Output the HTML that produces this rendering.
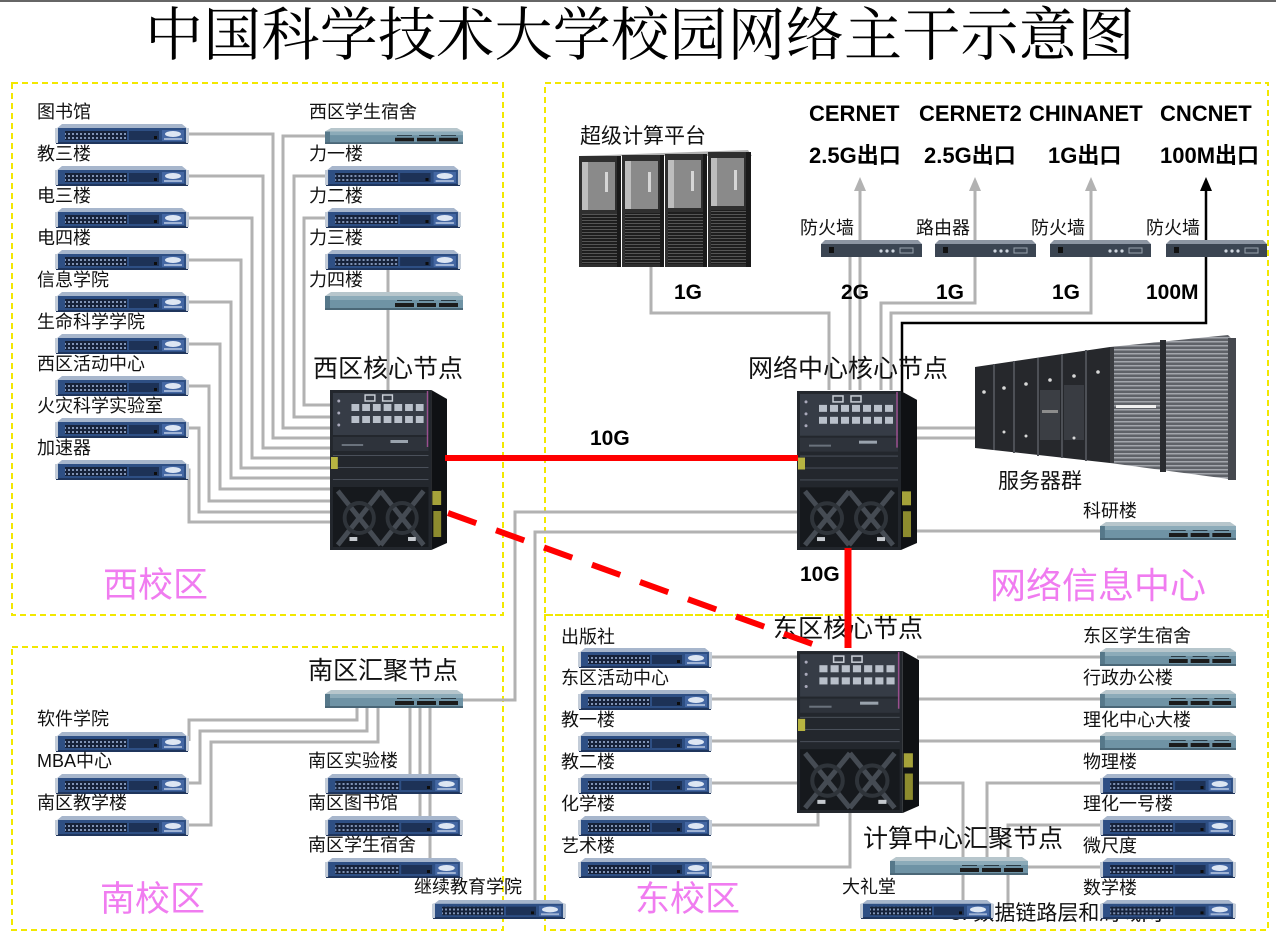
<!DOCTYPE html>
<html><head><meta charset="utf-8">
<style>
html,body{margin:0;padding:0;background:#fff;}
svg{display:block}
.t{font-family:'Liberation Sans','Noto Sans CJK SC',sans-serif;fill:#111;font-size:18px}
.n{font-size:25px}
.m{font-size:21px}
.b{font-weight:bold;font-size:22px;fill:#000}
.b2{font-weight:bold;font-size:21px;fill:#000}
.p{font-size:35px;fill:#f07cf0}
.ttl{font-family:'Noto Serif CJK SC','Noto Serif CJK JP','Noto Serif CJK TC','Liberation Serif',serif;font-size:58px;fill:#000;font-weight:400}
</style></head><body>
<svg width="1276" height="940" viewBox="0 0 1276 940" xmlns="http://www.w3.org/2000/svg">
<defs>
 <pattern id="ports" width="4" height="4" patternUnits="userSpaceOnUse"><rect width="4" height="4" fill="#16223a"/><rect x="1" y="1" width="2" height="2" fill="#8093b5"/></pattern>
 <pattern id="mesh" width="4" height="3" patternUnits="userSpaceOnUse"><rect width="4" height="3" fill="#1e1e1e"/><rect y="1" width="4" height="1" fill="#555"/></pattern>
 <pattern id="rack" width="6" height="4" patternUnits="userSpaceOnUse"><rect width="6" height="4" fill="#5f6268"/><rect y="1" width="6" height="1.5" fill="#a3a6ac"/></pattern>
 <symbol id="bsw" viewBox="0 0 134 20" preserveAspectRatio="none">
  <polygon points="7,0 127,0 133,5 1,5" fill="#a7b6cc"/>
  <rect x="1" y="4" width="132" height="15" fill="#2e4f84"/>
  <rect x="1" y="18" width="132" height="2" fill="#1f355c"/>
  <rect x="0" y="4" width="3" height="15" fill="#c3ccd8"/>
  <rect x="131" y="4" width="3" height="15" fill="#c3ccd8"/>
  <rect x="10" y="7" width="62" height="9" fill="url(#ports)"/>
  <rect x="74" y="7" width="30" height="9" fill="#1d3257"/>
  <rect x="99" y="12" width="3" height="3" fill="#0d0d0d"/>
  <rect x="107" y="6" width="22" height="11" fill="#4467a3"/>
  <ellipse cx="118" cy="10" rx="8" ry="3" fill="#dde6f3"/>
  <rect x="109" y="14" width="18" height="2" fill="#9fb3d4"/>
 </symbol>
 <symbol id="lsw" viewBox="0 0 138 18" preserveAspectRatio="none">
  <polygon points="6,0 132,0 138,4 0,4" fill="#b7c6cc"/>
  <rect x="0" y="4" width="138" height="14" fill="#6f93a5"/>
  <rect x="0" y="4" width="138" height="4" fill="#8cabb9"/>
  <rect x="0" y="4" width="5" height="14" fill="#56788a"/>
  <rect x="0" y="16" width="138" height="2" fill="#4b6777"/>
  <rect x="70" y="11" width="19" height="4" fill="#1b1b1b"/>
  <rect x="92" y="11" width="19" height="4" fill="#1b1b1b"/>
  <rect x="114" y="11" width="19" height="4" fill="#1b1b1b"/>
  <rect x="72" y="8" width="15" height="1" fill="#2a3a44"/>
  <rect x="94" y="8" width="15" height="1" fill="#2a3a44"/>
  <rect x="116" y="8" width="15" height="1" fill="#2a3a44"/>
 </symbol>
 <symbol id="fw" viewBox="0 0 101 17" preserveAspectRatio="none">
  <polygon points="4,0 97,0 101,4 0,4" fill="#8d96a3"/>
  <rect x="0" y="4" width="101" height="13" fill="#3b4552"/>
  <rect x="8" y="7" width="5" height="6" fill="#111"/>
  <circle cx="60" cy="11" r="1.6" fill="#cfd6df"/>
  <circle cx="66" cy="11" r="1.6" fill="#cfd6df"/>
  <circle cx="72" cy="11" r="1.6" fill="#cfd6df"/>
  <rect x="79" y="8" width="13" height="5" fill="none" stroke="#9aa4ae" stroke-width="1"/>
 </symbol>
 <symbol id="core" viewBox="0 0 120 163" preserveAspectRatio="none">
  <rect x="0" y="3" width="104" height="160" fill="#23272d"/>
  <polygon points="104,3 120,12 120,156 104,163" fill="#0f1114"/>
  <rect x="3" y="6" width="98" height="42" fill="#363c46"/>
  <rect x="36" y="8" width="10" height="6" fill="none" stroke="#c9ced6" stroke-width="1.5"/>
  <rect x="54" y="8" width="10" height="6" fill="none" stroke="#c9ced6" stroke-width="1.5"/>
  <g fill="#b9c0ca">
   <rect x="22" y="17" width="8" height="7"/><rect x="33" y="17" width="8" height="7"/><rect x="44" y="17" width="8" height="7"/><rect x="55" y="17" width="8" height="7"/><rect x="66" y="17" width="8" height="7"/><rect x="77" y="17" width="8" height="7"/><rect x="88" y="17" width="8" height="7"/>
   <rect x="22" y="29" width="8" height="7"/><rect x="33" y="29" width="8" height="7"/><rect x="44" y="29" width="8" height="7"/><rect x="55" y="29" width="8" height="7"/><rect x="66" y="29" width="8" height="7"/><rect x="77" y="29" width="8" height="7"/><rect x="88" y="29" width="8" height="7"/>
  </g>
  <circle cx="9" cy="14" r="1.5" fill="#aab"/><circle cx="9" cy="26" r="1.5" fill="#aab"/><circle cx="9" cy="38" r="1.5" fill="#aab"/>
  <rect x="3" y="50" width="98" height="14" fill="#2e333b"/>
  <rect x="62" y="53" width="18" height="3" fill="#9aa3ad"/>
  <rect x="12" y="57" width="22" height="2" fill="#6a727c"/>
  <rect x="3" y="68" width="98" height="1" fill="#4a505a"/>
  <rect x="3" y="80" width="98" height="1" fill="#4a505a"/>
  <rect x="3" y="92" width="98" height="1" fill="#4a505a"/>
  <rect x="3" y="100" width="98" height="60" fill="#16191d"/>
  <path d="M8,104 L52,158 M52,104 L8,158 M52,104 L96,158 M96,104 L52,158" stroke="#454b53" stroke-width="5"/>
  <circle cx="30" cy="131" r="15" fill="none" stroke="#2f343a" stroke-width="4"/>
  <circle cx="74" cy="131" r="15" fill="none" stroke="#2f343a" stroke-width="4"/>
  <rect x="20" y="150" width="8" height="4" fill="#c5c9ce"/>
  <rect x="80" y="150" width="8" height="4" fill="#c5c9ce"/>
  <rect x="105" y="104" width="9" height="14" fill="#a5a23a"/>
  <rect x="106" y="124" width="8" height="26" fill="#8d8b2e"/>
  <rect x="1" y="70" width="7" height="12" fill="#b7b441"/>
  <line x1="100" y1="4" x2="100" y2="60" stroke="#9a4f8f" stroke-width="1.5"/>
 </symbol>
</defs>

<rect x="0" y="0" width="1276" height="940" fill="#fff"/>
<rect x="0" y="0" width="1276" height="2" fill="#666"/>

<!-- title -->
<text class="ttl" x="145" y="55" textLength="990" lengthAdjust="spacing">中国科学技术大学校园网络主干示意图</text>

<!-- dashed region boxes -->
<g fill="none" stroke="#f2e800" stroke-width="2" stroke-dasharray="6 4">
 <rect x="12" y="83" width="491" height="532"/>
 <rect x="545" y="83" width="723" height="532"/>
 <rect x="545" y="615" width="723" height="315"/>
 <rect x="12" y="647" width="491" height="283"/>
</g>

<!-- gray connection lines -->
<g fill="none" stroke="#b2b2b2" stroke-width="3">
 <path d="M188,134 H273 V438 H330"/>
 <path d="M188,176 H263 V448 H330"/>
 <path d="M188,218 H252 V458 H330"/>
 <path d="M188,260 H241 V468 H330"/>
 <path d="M188,302 H231 V478 H330"/>
 <path d="M188,344 H220 V489 H330"/>
 <path d="M188,386 H209 V501 H330"/>
 <path d="M188,428 H199 V512 H330"/>
 <path d="M186,470 H189 V522 H330"/>
 <path d="M325,136 H283 V428 H330"/>
 <path d="M325,176 H294 V417 H330"/>
 <path d="M325,218 H304 V405 H330"/>
 <path d="M388,265 V390"/>

 <path d="M651,266 V313 H829 V390"/>
 <path d="M850,256 V390"/>
 <path d="M860,188 V390"/>
 <path d="M975,188 V303 H881 V390"/>
 <path d="M1091,188 V313 H891 V390"/>
 <path d="M917,428 H975"/>
 <path d="M917,438 H975"/>
 <path d="M917,531 H1100"/>

 <path d="M462,700 H515 V512 H798"/>
 <path d="M535,902 V532 H798"/>

 <path d="M357,708 V720 H189 V741"/>
 <path d="M367,708 V731 H200 V783 H188"/>
 <path d="M378,708 V742 H211 V825 H188"/>
 <path d="M410,708 V783"/>
 <path d="M420,708 V825"/>
 <path d="M430,708 V867"/>

 <path d="M712,657 H798"/>
 <path d="M712,699 H798"/>
 <path d="M712,741 H798"/>
 <path d="M712,783 H798"/>
 <path d="M712,825 H818 V795"/>
 <path d="M712,867 H850 V812"/>
 <path d="M917,657 H1100"/>
 <path d="M917,699 H1100"/>
 <path d="M917,741 H1100"/>
 <path d="M917,783 H963 V902"/>
 <path d="M1100,783 H987 V858"/>
 <path d="M1100,825 H1008 V908"/>
 <path d="M1028,867 H1100"/>
</g>
<!-- arrowheads -->
<g fill="#b2b2b2">
 <polygon points="854,191 866,191 860,177"/>
 <polygon points="969,191 981,191 975,177"/>
 <polygon points="1085,191 1097,191 1091,177"/>
</g>
<path d="M1206,188 V323 H902 V392" fill="none" stroke="#000" stroke-width="2.5"/>
<polygon points="1200,191 1212,191 1206,177" fill="#000"/>

<!-- supercomputer -->
<g>
 <polygon points="579,156 748,150 752,156" fill="#b0b0b0"/>
 <g>
  <rect x="579" y="156" width="42" height="111" fill="#2f2f2f"/>
  <rect x="582" y="162" width="33" height="48" fill="#8a8a8a"/>
  <rect x="582" y="162" width="6" height="48" fill="#bdbdbd"/>
  <rect x="605" y="172" width="3" height="20" fill="#d6d6d6"/>
  <rect x="582" y="214" width="35" height="50" fill="url(#mesh)"/>
  <rect x="617" y="156" width="4" height="111" fill="#1a1a1a"/>
 </g>
 <g>
  <rect x="622" y="155" width="42" height="112" fill="#2f2f2f"/>
  <rect x="625" y="161" width="33" height="48" fill="#8a8a8a"/>
  <rect x="625" y="161" width="6" height="48" fill="#bdbdbd"/>
  <rect x="648" y="172" width="3" height="20" fill="#d6d6d6"/>
  <rect x="625" y="213" width="35" height="51" fill="url(#mesh)"/>
  <rect x="660" y="155" width="4" height="112" fill="#1a1a1a"/>
 </g>
 <g>
  <rect x="665" y="154" width="42" height="113" fill="#2f2f2f"/>
  <rect x="668" y="160" width="33" height="48" fill="#8a8a8a"/>
  <rect x="668" y="160" width="6" height="48" fill="#bdbdbd"/>
  <rect x="691" y="171" width="3" height="20" fill="#d6d6d6"/>
  <rect x="668" y="212" width="35" height="52" fill="url(#mesh)"/>
  <rect x="703" y="154" width="4" height="113" fill="#1a1a1a"/>
 </g>
 <g>
  <rect x="708" y="152" width="42" height="115" fill="#2f2f2f"/>
  <rect x="711" y="158" width="33" height="48" fill="#8a8a8a"/>
  <rect x="711" y="158" width="6" height="48" fill="#bdbdbd"/>
  <rect x="734" y="170" width="3" height="20" fill="#d6d6d6"/>
  <rect x="711" y="210" width="35" height="54" fill="url(#mesh)"/>
  <rect x="746" y="152" width="5" height="115" fill="#1a1a1a"/>
 </g>
</g>

<!-- server group -->
<g>
 <polygon points="975,367 1110,347 1110,463 975,448" fill="#26282c"/>
 <polygon points="1110,347 1228,335 1236,343 1236,480 1110,463" fill="url(#rack)"/>
 <g stroke="#4d5056" stroke-width="2">
  <line x1="994" y1="364" x2="994" y2="450"/>
  <line x1="1014" y1="361" x2="1014" y2="453"/>
  <line x1="1038" y1="358" x2="1038" y2="456"/>
  <line x1="1062" y1="354" x2="1062" y2="458"/>
  <line x1="1086" y1="350" x2="1086" y2="461"/>
 </g>
 <rect x="1040" y="390" width="20" height="50" fill="#3b3e44"/>
 <rect x="1064" y="385" width="20" height="55" fill="#393c42"/>
 <rect x="1042" y="410" width="16" height="3" fill="#8c8c8c"/>
 <g fill="#d8d8d8">
  <circle cx="984" cy="392" r="1.8"/><circle cx="1004" cy="388" r="1.8"/><circle cx="1026" cy="384" r="1.8"/><circle cx="1050" cy="380" r="1.8"/><circle cx="1074" cy="376" r="1.8"/><circle cx="1098" cy="372" r="1.8"/>
  <circle cx="1004" cy="432" r="1.5"/><circle cx="1026" cy="436" r="1.5"/><circle cx="1074" cy="438" r="1.5"/>
 </g>
 <rect x="1160" y="340" width="6" height="132" fill="#2a2c30"/>
 <rect x="1110" y="347" width="4" height="116" fill="#3a3c40"/>
 <rect x="1116" y="405" width="40" height="3" fill="#f0f0f0"/>
 <rect x="1228" y="338" width="8" height="142" fill="#45484e"/>
</g>

<!-- switches: west left -->
<use href="#bsw" x="55" y="124" width="134" height="20"/>
<use href="#bsw" x="55" y="166" width="134" height="20"/>
<use href="#bsw" x="55" y="208" width="134" height="20"/>
<use href="#bsw" x="55" y="250" width="134" height="20"/>
<use href="#bsw" x="55" y="292" width="134" height="20"/>
<use href="#bsw" x="55" y="334" width="134" height="20"/>
<use href="#bsw" x="55" y="376" width="134" height="20"/>
<use href="#bsw" x="55" y="418" width="134" height="20"/>
<use href="#bsw" x="55" y="460" width="134" height="20"/>
<!-- west right -->
<use href="#lsw" x="325" y="128" width="138" height="16"/>
<use href="#bsw" x="325" y="166" width="136" height="20"/>
<use href="#bsw" x="325" y="208" width="136" height="20"/>
<use href="#bsw" x="325" y="250" width="136" height="20"/>
<use href="#lsw" x="325" y="292" width="138" height="18"/>

<!-- firewalls / router -->
<use href="#fw" x="821" y="240" width="101" height="17"/>
<use href="#fw" x="935" y="240" width="101" height="17"/>
<use href="#fw" x="1050" y="240" width="101" height="17"/>
<use href="#fw" x="1166" y="240" width="101" height="17"/>

<!-- 科研楼 -->
<use href="#lsw" x="1100" y="522" width="136" height="18"/>

<!-- south -->
<use href="#lsw" x="325" y="690" width="138" height="18"/>
<use href="#bsw" x="55" y="732" width="134" height="20"/>
<use href="#bsw" x="55" y="774" width="134" height="20"/>
<use href="#bsw" x="55" y="816" width="134" height="20"/>
<use href="#bsw" x="325" y="774" width="138" height="20"/>
<use href="#bsw" x="325" y="816" width="138" height="20"/>
<use href="#bsw" x="325" y="858" width="138" height="20"/>
<use href="#bsw" x="432" y="900" width="134" height="19"/>

<!-- east left -->
<use href="#bsw" x="578" y="648" width="134" height="20"/>
<use href="#bsw" x="578" y="690" width="134" height="20"/>
<use href="#bsw" x="578" y="732" width="134" height="20"/>
<use href="#bsw" x="578" y="774" width="134" height="20"/>
<use href="#bsw" x="578" y="816" width="134" height="20"/>
<use href="#bsw" x="578" y="858" width="134" height="20"/>

<!-- overlay caption partially hidden -->
<text class="t m" x="950" y="920" fill="#222">3. 数据链路层和局域网</text>

<!-- east right -->
<use href="#lsw" x="1100" y="648" width="136" height="18"/>
<use href="#lsw" x="1100" y="690" width="136" height="18"/>
<use href="#lsw" x="1100" y="732" width="136" height="18"/>
<use href="#bsw" x="1100" y="774" width="136" height="20"/>
<use href="#bsw" x="1100" y="816" width="136" height="20"/>
<use href="#bsw" x="1100" y="858" width="136" height="20"/>
<use href="#bsw" x="1100" y="900" width="136" height="19"/>
<use href="#lsw" x="890" y="857" width="138" height="18"/>
<use href="#bsw" x="860" y="900" width="134" height="19"/>

<!-- cores -->
<use href="#core" x="330" y="387" width="117" height="163"/>
<use href="#core" x="797" y="388" width="120" height="162"/>
<use href="#core" x="797" y="648" width="122" height="165"/>

<!-- labels -->
<g class="t">
 <text x="37" y="118">图书馆</text>
 <text x="37" y="160">教三楼</text>
 <text x="37" y="202">电三楼</text>
 <text x="37" y="244">电四楼</text>
 <text x="37" y="286">信息学院</text>
 <text x="37" y="328">生命科学学院</text>
 <text x="37" y="370">西区活动中心</text>
 <text x="37" y="412">火灾科学实验室</text>
 <text x="37" y="454">加速器</text>
 <text x="309" y="118">西区学生宿舍</text>
 <text x="309" y="160">力一楼</text>
 <text x="309" y="202">力二楼</text>
 <text x="309" y="244">力三楼</text>
 <text x="309" y="286">力四楼</text>

 <text x="800" y="234">防火墙</text>
 <text x="916" y="234">路由器</text>
 <text x="1031" y="234">防火墙</text>
 <text x="1146" y="234">防火墙</text>
 <text x="1083" y="517">科研楼</text>

 <text x="37" y="725">软件学院</text>
 <text x="37" y="767">MBA中心</text>
 <text x="37" y="809">南区教学楼</text>
 <text x="308" y="767">南区实验楼</text>
 <text x="308" y="809">南区图书馆</text>
 <text x="308" y="851">南区学生宿舍</text>
 <text x="414" y="893">继续教育学院</text>

 <text x="561" y="643">出版社</text>
 <text x="561" y="684">东区活动中心</text>
 <text x="561" y="726">教一楼</text>
 <text x="561" y="768">教二楼</text>
 <text x="561" y="810">化学楼</text>
 <text x="561" y="852">艺术楼</text>
 <text x="1083" y="642">东区学生宿舍</text>
 <text x="1083" y="684">行政办公楼</text>
 <text x="1083" y="726">理化中心大楼</text>
 <text x="1083" y="768">物理楼</text>
 <text x="1083" y="810">理化一号楼</text>
 <text x="1083" y="852">微尺度</text>
 <text x="1083" y="894">数学楼</text>
 <text x="842" y="893">大礼堂</text>

 <text class="m" x="580" y="143">超级计算平台</text>
 <text class="m" x="998" y="488">服务器群</text>

 <text class="n" x="313" y="377">西区核心节点</text>
 <text class="n" x="748" y="377">网络中心核心节点</text>
 <text class="n" x="773" y="637">东区核心节点</text>
 <text class="n" x="308" y="679">南区汇聚节点</text>
 <text class="n" x="863" y="847">计算中心汇聚节点</text>

 <text class="b" x="809" y="121">CERNET</text>
 <text class="b" x="919" y="121">CERNET2</text>
 <text class="b" x="1029" y="121">CHINANET</text>
 <text class="b" x="1160" y="121">CNCNET</text>
 <text class="b" x="809" y="163">2.5G出口</text>
 <text class="b" x="924" y="163">2.5G出口</text>
 <text class="b" x="1048" y="163">1G出口</text>
 <text class="b" x="1160" y="163">100M出口</text>

 <text class="b2" x="674" y="299">1G</text>
 <text class="b2" x="841" y="299">2G</text>
 <text class="b2" x="936" y="299">1G</text>
 <text class="b2" x="1052" y="299">1G</text>
 <text class="b2" x="1146" y="299">100M</text>
 <text class="b2" x="590" y="445">10G</text>
 <text class="b2" x="800" y="581">10G</text>

 <text class="p" x="103" y="597">西校区</text>
 <text class="p" x="990" y="598" style="font-size:36px">网络信息中心</text>
 <text class="p" x="100" y="911">南校区</text>
 <text class="p" x="635" y="911">东校区</text>
</g>

<!-- red links -->
<line x1="445" y1="458" x2="798" y2="458" stroke="#ff0000" stroke-width="6"/>
<line x1="848" y1="548" x2="848" y2="648" stroke="#ff0000" stroke-width="7"/>
<line x1="448" y1="513" x2="818" y2="646" stroke="#ff0000" stroke-width="6" stroke-dasharray="30 21"/>
</svg>
</body></html>
